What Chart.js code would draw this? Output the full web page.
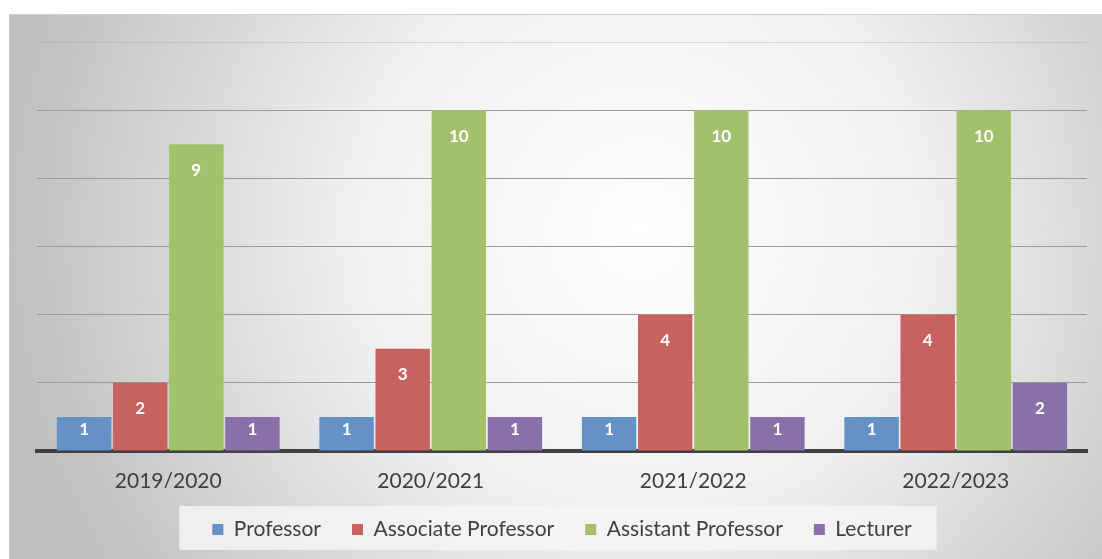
<!DOCTYPE html>
<html><head><meta charset="utf-8">
<script src="https://cdn.jsdelivr.net/npm/chart.js@4.4.1/dist/chart.umd.min.js"></script>
<style>html,body{margin:0;padding:0;background:#fff;}#wrap{width:1102px;height:559px;position:relative;}</style>
</head><body><div id="wrap"><canvas id="c" width="1102" height="559"></canvas></div>
<script>
const categories = ['2019/2020','2020/2021','2021/2022','2022/2023'];
const professor = [1,1,1,1];
const associateProfessor = [2,3,4,4];
const assistantProfessor = [9,10,10,10];
const lecturer = [1,1,1,2];
const seriesNames = ['Professor','Associate Professor','Assistant Professor','Lecturer'];
const seriesColors = ['#6592c6','#c8625f','#a3c16a','#8a70a9'];
const FONT = 'Lato, "Open Sans", sans-serif';

const bgPlugin = {
  id:'bg',
  beforeDraw(chart){
    const ctx = chart.ctx;
    ctx.save();
    const g = ctx.createRadialGradient(640,230,0,640,230,640);
    g.addColorStop(0,'#ffffff');
    g.addColorStop(0.45,'#f0f0f0');
    g.addColorStop(1,'#bfbfbf');
    ctx.fillStyle = g;
    ctx.fillRect(10,14,1092,545);
    ctx.strokeStyle = '#cfcfcf';
    ctx.lineWidth = 1;
    ctx.beginPath(); ctx.moveTo(10,14.5); ctx.lineTo(1102,14.5); ctx.moveTo(9.5,14); ctx.lineTo(9.5,559); ctx.stroke();
    const lg = chart.legend;
    if (lg && lg.legendHitBoxes && lg.legendHitBoxes.length){
      const hb = lg.legendHitBoxes;
      const x0 = Math.min(...hb.map(h=>h.left)) - 33;
      const x1 = Math.max(...hb.map(h=>h.left+h.width)) + 25;
      const y0 = 506, y1 = 550;
      ctx.fillStyle = 'rgba(245,245,245,0.85)';
      ctx.fillRect(x0,y0,x1-x0,y1-y0);
    }
    ctx.restore();
  }
};
const labelPlugin = {
  id:'vlabels',
  afterDatasetsDraw(chart){
    const ctx = chart.ctx;
    ctx.save();
    ctx.fillStyle = '#ffffff';
    ctx.font = 'bold 17px ' + FONT;
    ctx.textAlign = 'center';
    ctx.textBaseline = 'middle';
    chart.data.datasets.forEach((ds,i)=>{
      const meta = chart.getDatasetMeta(i);
      meta.data.forEach((bar,j)=>{
        const v = ds.data[j];
        const h = bar.base - bar.y;
        const y = h < 50 ? bar.y + h/2 - 4 : bar.y + 26;
        ctx.fillText(String(v), bar.x, y);
      });
    });
    ctx.restore();
  }
};

new Chart(document.getElementById('c'),{
  type:'bar',
  data:{
    labels: categories,
    datasets:[professor,associateProfessor,assistantProfessor,lecturer].map((d,i)=>({
      label: seriesNames[i], data: d, backgroundColor: seriesColors[i],
      barPercentage:0.97, categoryPercentage:0.855
    }))
  },
  options:{
    responsive:false, animation:false,
    layout:{padding:{top:42,left:37,right:15,bottom:9}},
    plugins:{
      legend:{position:'bottom',labels:{boxWidth:11,boxHeight:11,padding:31,color:'#404040',font:{family:FONT,size:21}}},
      tooltip:{enabled:false}
    },
    scales:{
      x:{grid:{display:false,drawTicks:false},border:{display:true,color:'#404040',width:4},
         afterFit(scale){ scale.height = 37; },
         ticks:{color:'#404040',padding:18,font:{family:FONT,size:21}}},
      y:{min:0,max:12,display:true,ticks:{display:false,stepSize:2},
         grid:{color:(c)=> c.tick.value===12 ? 'rgba(160,160,160,0.35)' : '#9a9a9a',lineWidth:1,drawTicks:false},
         border:{display:false}}
    }
  },
  plugins:[bgPlugin,labelPlugin]
});
</script></body></html>
